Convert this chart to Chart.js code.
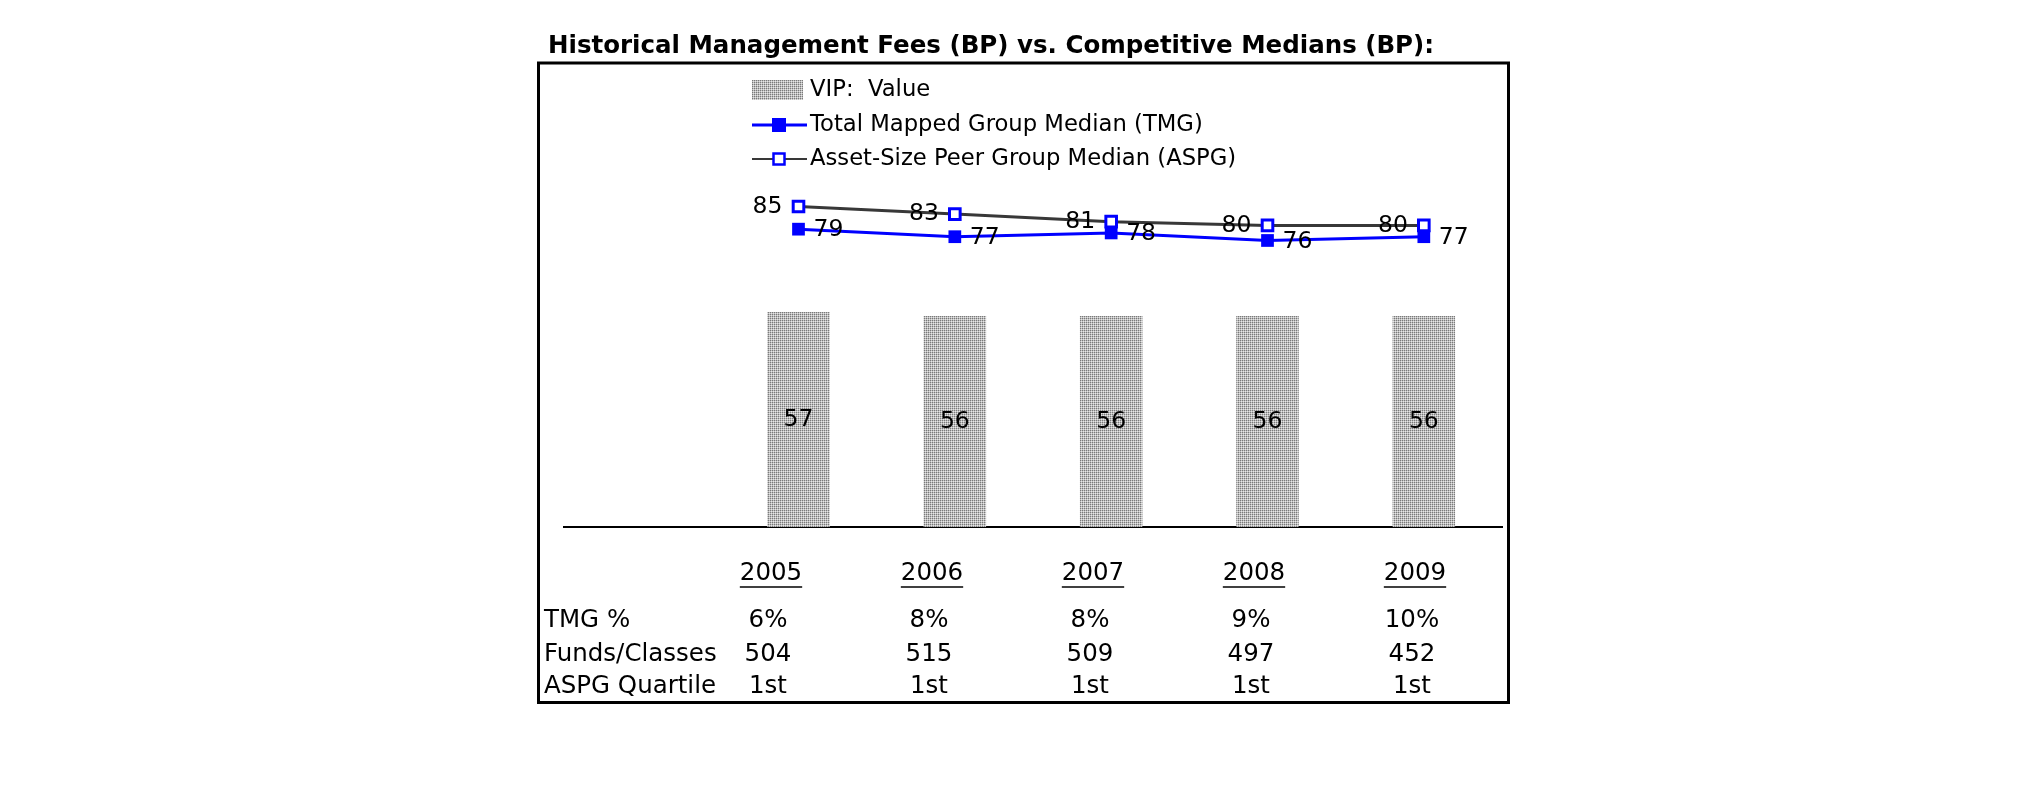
<!DOCTYPE html>
<html>
<head>
<meta charset="utf-8">
<script src="https://cdn.jsdelivr.net/npm/chart.js@4.4.1/dist/chart.umd.min.js"></script>
<style>
  html, body { margin: 0; padding: 0; background: #fff; overflow: hidden; }
  #wrap { width: 2025px; height: 806px; position: relative; }
</style>
</head>
<body>
<div id="wrap"><canvas id="c" width="2025" height="806"></canvas></div>
<script>
// ---- data ----
const categories = ['2005', '2006', '2007', '2008', '2009'];
const vipValues = [57, 56, 56, 56, 56];
const tmgValues = [79, 77, 78, 76, 77];
const aspgValues = [85, 83, 81, 80, 80];
const tmgPercent = ['6%', '8%', '8%', '9%', '10%'];
const fundsClasses = ['504', '515', '509', '497', '452'];
const aspgQuartile = ['1st', '1st', '1st', '1st', '1st'];
const rowLabels = ['TMG %', 'Funds/Classes', 'ASPG Quartile'];
const seriesNames = ['VIP:  Value', 'Total Mapped Group Median (TMG)', 'Asset-Size Peer Group Median (ASPG)'];
const titleText = 'Historical Management Fees (BP) vs. Competitive Medians (BP):';

const FONT = "'DejaVu Sans', 'Liberation Sans', sans-serif";

// dotted bar pattern
function makePattern() {
  const p = document.createElement('canvas');
  p.width = 4; p.height = 4;
  const g = p.getContext('2d');
  for (let y = 0; y < 4; y++) {
    for (let x = 0; x < 4; x++) {
      let c;
      if (x % 2 === 0 && y % 2 === 0) c = '#7a7a7a';
      else if ((x + y) % 2 === 1) c = '#bdbdbd';
      else c = '#e6e6e6';
      g.fillStyle = c; g.fillRect(x, y, 1, 1);
    }
  }
  return document.getElementById('c').getContext('2d').createPattern(p, 'repeat');
}
const barPattern = makePattern();

const decor = {
  id: 'decor',
  afterDraw(chart) {
    const ctx = chart.ctx;
    ctx.save();
    // title
    ctx.fillStyle = '#000';
    ctx.font = "bold 24.5px " + FONT;
    ctx.textAlign = 'left';
    ctx.textBaseline = 'middle';
    ctx.fillText(titleText, 548, 47);

    // frame
    ctx.strokeStyle = '#000';
    ctx.lineWidth = 3;
    ctx.strokeRect(538.5, 63, 970, 639.5);

    // legend
    const ds = chart.data.datasets;
    const legY = [90, 125, 159];
    const lx0 = 752, lx1 = 807, tx = 810;
    ctx.font = "22.7px " + FONT;
    // VIP swatch
    ctx.fillStyle = barPattern;
    ctx.fillRect(lx0, legY[0] - 10, 51, 20);
    // TMG
    ctx.strokeStyle = ds[0].borderColor; ctx.lineWidth = 3;
    ctx.beginPath(); ctx.moveTo(lx0, legY[1]); ctx.lineTo(lx1, legY[1]); ctx.stroke();
    ctx.fillStyle = ds[0].pointBackgroundColor;
    ctx.fillRect(779 - 7, legY[1] - 7, 14, 14);
    // ASPG
    ctx.strokeStyle = ds[1].borderColor; ctx.lineWidth = 2;
    ctx.beginPath(); ctx.moveTo(lx0, legY[2]); ctx.lineTo(lx1, legY[2]); ctx.stroke();
    ctx.fillStyle = '#fff'; ctx.fillRect(779 - 5.5, legY[2] - 5.5, 11, 11);
    ctx.strokeStyle = ds[1].pointBorderColor; ctx.lineWidth = 2.5;
    ctx.strokeRect(779 - 5.5, legY[2] - 5.5, 11, 11);
    ctx.fillStyle = '#000';
    ctx.fillText(seriesNames[0], tx, legY[0]);
    ctx.fillText(seriesNames[1], tx, legY[1]);
    ctx.fillText(seriesNames[2], tx, legY[2]);

    // data table
    const colX0 = 771, colStep = 161;
    ctx.font = "24.5px " + FONT;
    ctx.textAlign = 'center';
    categories.forEach((c, i) => {
      const x = colX0 + i * colStep;
      ctx.fillText(c, x, 574);
      const w = ctx.measureText(c).width;
      ctx.lineWidth = 1.5; ctx.strokeStyle = '#000';
      ctx.beginPath(); ctx.moveTo(x - w / 2, 587); ctx.lineTo(x + w / 2, 587); ctx.stroke();
    });
    const rows = [tmgPercent, fundsClasses, aspgQuartile];
    const rowY = [621, 655, 687];
    rows.forEach((r, ri) => {
      ctx.textAlign = 'left';
      ctx.fillText(rowLabels[ri], 544, rowY[ri]);
      ctx.textAlign = 'center';
      r.forEach((v, i) => ctx.fillText(v, colX0 - 3 + i * colStep, rowY[ri]));
    });
    ctx.restore();
  },
  afterDatasetsDraw(chart) {
    const ctx = chart.ctx;
    ctx.save();
    ctx.fillStyle = '#000';
    ctx.font = "23.5px " + FONT;
    ctx.textBaseline = 'middle';
    // bars
    const bm = chart.getDatasetMeta(2);
    bm.data.forEach((el, i) => {
      const v = chart.data.datasets[2].data[i];
      if (v == null) return;
      ctx.textAlign = 'center';
      ctx.fillText(String(v), el.x, (el.y + el.base) / 2);
    });
    const tm = chart.getDatasetMeta(0);
    tm.data.forEach((el, i) => {
      const v = chart.data.datasets[0].data[i];
      if (v == null) return;
      ctx.textAlign = 'left';
      ctx.fillText(String(v), el.x + 15, el.y + 1);
    });
    const am = chart.getDatasetMeta(1);
    am.data.forEach((el, i) => {
      const v = chart.data.datasets[1].data[i];
      if (v == null) return;
      ctx.textAlign = 'right';
      ctx.fillText(String(v), el.x - 16, el.y);
    });
    ctx.restore();
  }
};

new Chart(document.getElementById('c'), {
  type: 'bar',
  data: {
    labels: [''].concat(categories),
    datasets: [
      {
        type: 'line', label: seriesNames[1], data: [null].concat(tmgValues),
        borderColor: '#0000ff', backgroundColor: '#0000ff', borderWidth: 3,
        pointStyle: 'rect', pointRadius: 9, pointBorderWidth: 0,
        pointBackgroundColor: '#0000ff', pointBorderColor: '#0000ff', order: 1, tension: 0
      },
      {
        type: 'line', label: seriesNames[2], data: [null].concat(aspgValues),
        borderColor: '#383838', backgroundColor: '#ffffff', borderWidth: 3,
        pointStyle: 'rect', pointRadius: 7.5, pointBorderWidth: 3,
        pointBackgroundColor: '#ffffff', pointBorderColor: '#0000ff', order: 0, tension: 0
      },
      {
        type: 'bar', label: seriesNames[0], data: [null].concat(vipValues),
        backgroundColor: barPattern, borderWidth: 0,
        barPercentage: 0.4, categoryPercentage: 1, order: 2
      }
    ]
  },
  options: {
    responsive: false,
    devicePixelRatio: 1,
    animation: false,
    events: [],
    layout: { padding: { left: 564, right: 523, top: 150, bottom: 279 } },
    plugins: { legend: { display: false }, title: { display: false }, tooltip: { enabled: false } },
    scales: {
      x: {
        grid: { display: false, drawTicks: false },
        ticks: { display: false },
        border: { display: true, color: '#000', width: 2 }
      },
      y: { display: false, min: 0, max: 100 }
    }
  },
  plugins: [decor]
});
</script>
</body>
</html>
